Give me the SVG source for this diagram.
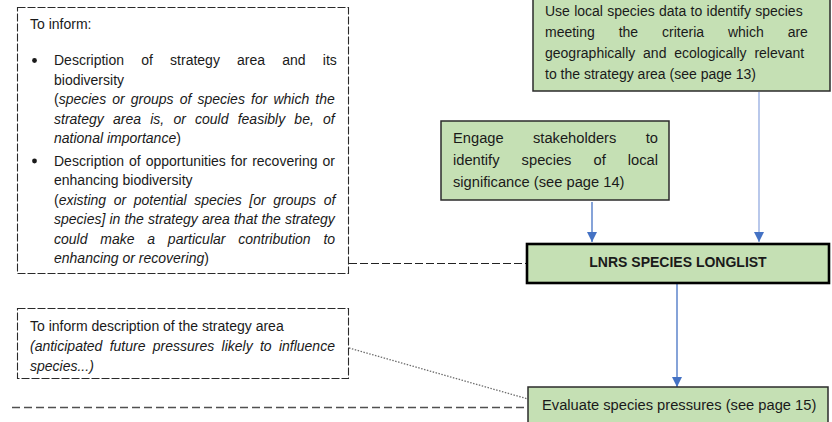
<svg xmlns="http://www.w3.org/2000/svg" width="832" height="422" viewBox="0 0 832 422">
  <style>
    .t { font-family: "Liberation Sans", Arial, sans-serif; font-size: 14px; fill: #1a1a1a; }
    .it { font-style: italic; }
    .r { font-size: 14.7px; }
    .note { fill: #ffffff; stroke: #2a2a2a; stroke-width: 1.1; stroke-dasharray: 8 2; }
    .step { fill: #c5e0b4; stroke: #2b2b2b; stroke-width: 1.5; }
    .key { fill: #c5e0b4; stroke: #000000; stroke-width: 2.6; }
    .flow { stroke: #4472c4; stroke-width: 1.3; fill: none; }
    .flow-light { stroke: #a8bbe6; stroke-width: 1.6; fill: none; }
  </style>
  <defs>
    <marker id="arrow" viewBox="0 0 10 10" refX="10" refY="5" markerWidth="10" markerHeight="10" markerUnits="userSpaceOnUse" orient="auto">
      <path d="M0,0 L10,5 L0,10 z" fill="#4472c4"/>
    </marker>
  </defs>

  <rect width="832" height="422" fill="#ffffff"/>

  <!-- connectors -->
  <g id="connectors">
    <line x1="349" y1="263.5" x2="527" y2="263.5" stroke="#222222" stroke-width="1.2" stroke-dasharray="8 3"/>
    <line x1="349" y1="348" x2="528" y2="399" stroke="#6e6e6e" stroke-width="1.3" stroke-dasharray="1.5 1.5"/>
    <line x1="12" y1="407.5" x2="528" y2="407.5" stroke="#505050" stroke-width="1.4" stroke-dasharray="8 4"/>
    <line class="flow-light" x1="759" y1="92" x2="759" y2="242" marker-end="url(#arrow)"/>
    <line class="flow" x1="592" y1="202" x2="592" y2="242" marker-end="url(#arrow)"/>
    <line class="flow" x1="677" y1="284" x2="677" y2="387" marker-end="url(#arrow)"/>
  </g>

  <!-- purpose note: strategy area and opportunities -->
  <g id="note-inform">
    <rect class="note" x="17.5" y="7.5" width="331" height="266"/>
    <text class="t" x="30" y="29">To inform:</text>
    <circle cx="34.5" cy="60.5" r="2.4" fill="#1a1a1a"/>
    <text class="t" x="54" y="65" word-spacing="13.3">Description of strategy area and its</text>
    <text class="t" x="54" y="84.5">biodiversity</text>
    <text class="t" x="54" y="104" word-spacing="2.2">(<tspan class="it">species or groups of species for which the</tspan></text>
    <text class="t it" x="54" y="123.5" word-spacing="5.3">strategy area is, or could feasibly be, of</text>
    <text class="t" x="54" y="143"><tspan class="it">national importance</tspan>)</text>
    <circle cx="34.5" cy="161" r="2.4" fill="#1a1a1a"/>
    <text class="t" x="54" y="165.5" word-spacing="1.1">Description of opportunities for recovering or</text>
    <text class="t" x="54" y="185">enhancing biodiversity</text>
    <text class="t" x="54" y="204.5" word-spacing="3.7">(<tspan class="it">existing or potential species [or groups of</tspan></text>
    <text class="t it" x="54" y="224" word-spacing="0.2">species] in the strategy area that the strategy</text>
    <text class="t it" x="54" y="243.5" word-spacing="8.9">could make a particular contribution to</text>
    <text class="t" x="54" y="263"><tspan class="it">enhancing or recovering</tspan>)</text>
  </g>

  <!-- purpose note: pressures -->
  <g id="note-pressures">
    <rect class="note" x="17.5" y="308.5" width="331" height="70"/>
    <text class="t" x="30" y="331">To inform description of the strategy area</text>
    <text class="t it" x="30" y="351" word-spacing="3.4">(anticipated future pressures likely to influence</text>
    <text class="t it" x="30" y="371">species...)</text>
  </g>

  <!-- step: local species data -->
  <g id="step-local-data">
    <rect class="step" x="533" y="-2" width="297" height="93"/>
    <text class="t" x="545" y="16" font-size="15" word-spacing="0.4">Use local species data to identify species</text>
    <text class="t" x="545" y="37" font-size="15" word-spacing="20">meeting the criteria which are</text>
    <text class="t" x="545" y="58" font-size="15" word-spacing="3.9">geographically and ecologically relevant</text>
    <text class="t" x="545" y="79" font-size="15">to the strategy area (see page 13)</text>
  </g>

  <!-- step: stakeholders -->
  <g id="step-stakeholders">
    <rect class="step" x="441" y="121" width="228" height="79"/>
    <text class="t r" x="453" y="143" word-spacing="25.3">Engage stakeholders to</text>
    <text class="t r" x="453" y="165" word-spacing="18">identify species of local</text>
    <text class="t r" x="453" y="187">significance (see page 14)</text>
  </g>

  <!-- key output: longlist -->
  <g id="longlist">
    <rect class="key" x="527" y="244" width="302" height="39"/>
    <text class="t" x="678" y="267" font-size="13" font-weight="bold" text-anchor="middle">LNRS SPECIES LONGLIST</text>
  </g>

  <!-- step: pressures -->
  <g id="step-pressures">
    <rect class="step" x="528" y="387" width="300" height="42"/>
    <text class="t r" x="542" y="410">Evaluate species pressures (see page 15)</text>
  </g>
</svg>
